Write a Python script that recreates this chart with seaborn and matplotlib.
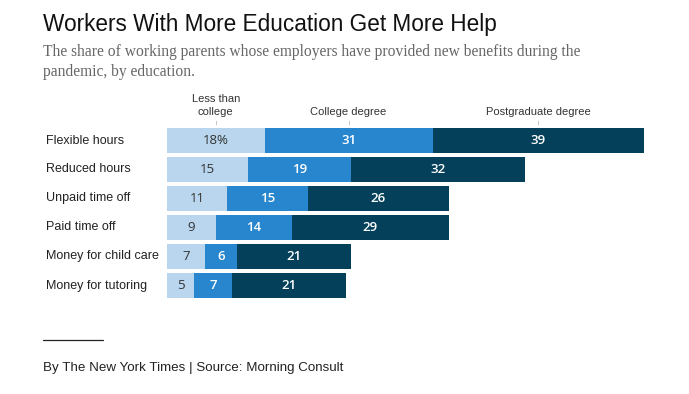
import numpy as np
import pandas as pd
import matplotlib
matplotlib.use("Agg")
import matplotlib.pyplot as plt
import seaborn as sns

# data
benefits = ["Flexible hours", "Reduced hours", "Unpaid time off",
            "Paid time off", "Money for child care", "Money for tutoring"]
less_than_college = [18, 15, 11, 9, 7, 5]
college_degree = [31, 19, 15, 14, 6, 7]
postgrad_degree = [39, 32, 26, 29, 21, 21]
groups = ["Less than\ncollege", "College degree", "Postgraduate degree"]

colors = ["#b9d6ee", "#2886cf", "#04405a"]
text_colors = ["#333333", "white", "white"]

sns.set_theme(style="white")
plt.rcParams["font.family"] = ["Liberation Sans", "DejaVu Sans"]

df = pd.DataFrame({
    "benefit": benefits,
    "less": less_than_college,
    "college": college_degree,
    "post": postgrad_degree,
})
df["cum1"] = df["less"]
df["cum2"] = df["less"] + df["college"]
df["cum3"] = df["cum2"] + df["post"]

W, H = 689, 394
fig = plt.figure(figsize=(W / 100, H / 100), dpi=100)

# axes in pixel coords: x0=167, scale ~5.42 px per point, rows 29 px apart
x0, x1 = 167, 167 + 88 * 5.42
y_top, y_bot = 126, 300
ax = fig.add_axes([x0 / W, 1 - y_bot / H, (x1 - x0) / W, (y_bot - y_top) / H])

# stacked bars drawn from the largest cumulative total down
for col, c in zip(["cum3", "cum2", "cum1"], colors[::-1]):
    sns.barplot(data=df, x=col, y="benefit", orient="h", color=c,
                width=0.83, saturation=1, ax=ax, linewidth=0)

ax.set_xlim(0, 88)
ax.set_ylim(5.5, -0.5)
ax.set_xlabel("")
ax.set_ylabel("")
ax.set_xticks([])
ax.set_yticks([])
sns.despine(ax=ax, left=True, bottom=True)

# segment labels
starts = [np.zeros(len(df)), df["cum1"].values, df["cum2"].values]
vals = [df["less"].values, df["college"].values, df["post"].values]
for k in range(3):
    for i in range(len(df)):
        v = vals[k][i]
        label = f"{v}%" if (k == 0 and i == 0) else f"{v}"
        ax.text(starts[k][i] + v / 2, i, label, ha="center", va="center",
                fontsize=9.5, color=text_colors[k],
                family=["Open Sans", "DejaVu Sans"],
                fontweight="normal" if k == 0 else "semibold")

# category labels on the left
for i, b in enumerate(benefits):
    ax.text(-121 / 5.42, i, b, ha="left", va="center", fontsize=9,
            color="#222222")

# group labels above the first row, with small tick marks
for k in range(3):
    cx = starts[k][0] + vals[k][0] / 2
    ax.text(cx, -0.8, groups[k], ha="center", va="bottom", fontsize=8,
            color="#333333", linespacing=1.35)
    ax.plot([cx, cx], [-0.66, -0.55], color="#888888", lw=0.7,
            ls=(0, (1, 1)), clip_on=False)

# title, subtitle, footer
fig.text(43 / W, 1 - 25 / H, "Workers With More Education Get More Help",
         ha="left", va="center", fontsize=16.3, color="#111111")
fig.text(43 / W, 1 - 62 / H,
         "The share of working parents whose employers have provided new benefits during the\npandemic, by education.",
         ha="left", va="center", fontsize=11.2, color="#666666",
         family=["Liberation Serif", "DejaVu Serif"], linespacing=1.4)
fig.add_artist(plt.Line2D([43 / W, 103 / W], [1 - 340 / H, 1 - 340 / H],
                          color="#222222", lw=0.9))
fig.text(43 / W, 1 - 368 / H, "By The New York Times | Source: Morning Consult",
         ha="left", va="center", fontsize=9.6, color="#222222")

fig.savefig("out.png", dpi=100, facecolor="white")
